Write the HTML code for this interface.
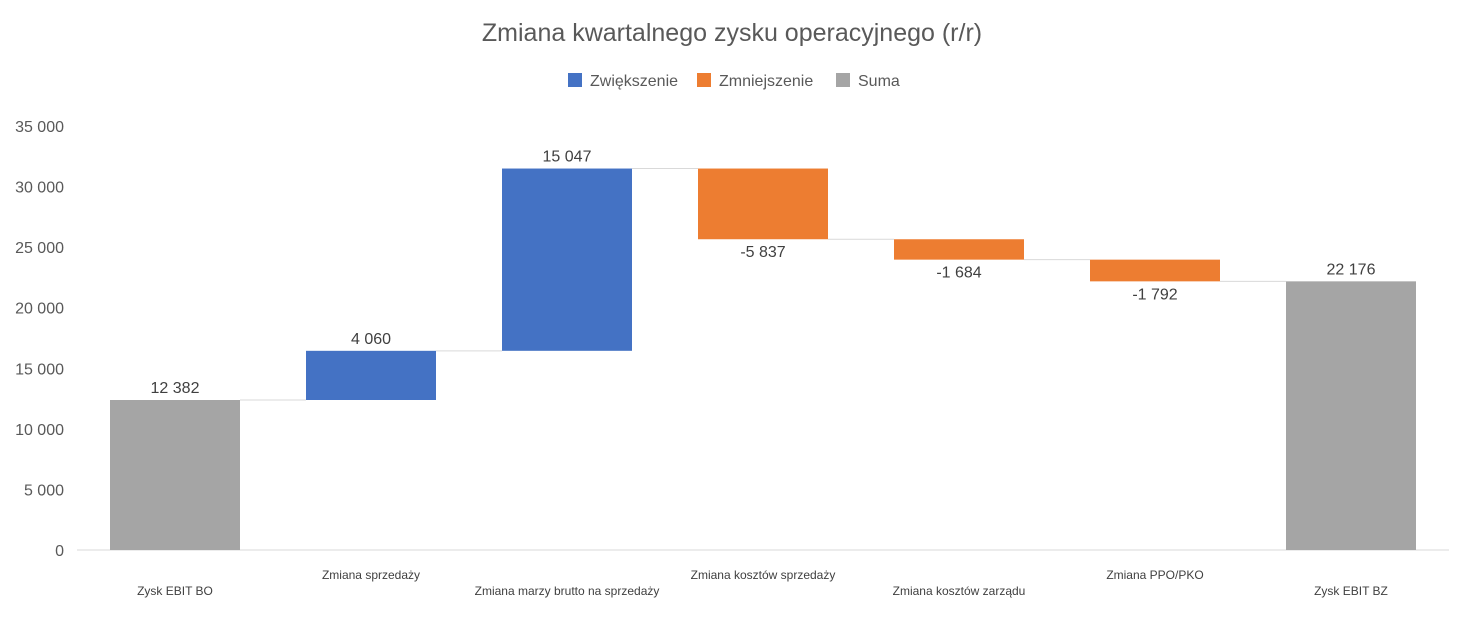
<!DOCTYPE html>
<html><head><meta charset="utf-8"><style>
body{margin:0;background:#fff;font-family:"Liberation Sans",sans-serif}
svg text{font-family:"Liberation Sans",sans-serif}
</style></head><body>
<svg id="c" width="1464" height="613">
<text x="732" y="41" text-anchor="middle" font-size="25" fill="#595959">Zmiana kwartalnego zysku operacyjnego (r/r)</text>
<g>
<rect x="568" y="73" width="14" height="14" fill="#4472c4"/>
<text x="590" y="86" font-size="16" fill="#595959">Zwiększenie</text>
<rect x="697" y="73" width="14" height="14" fill="#ed7d31"/>
<text x="719" y="86" font-size="16" fill="#595959">Zmniejszenie</text>
<rect x="836" y="73" width="14" height="14" fill="#a5a5a5"/>
<text x="858" y="86" font-size="16" fill="#595959">Suma</text>
</g>
<g id="plot"></g>
</svg>
<script>
const categories=["Zysk EBIT BO","Zmiana sprzedaży","Zmiana marzy brutto na sprzedaży","Zmiana kosztów sprzedaży","Zmiana kosztów zarządu","Zmiana PPO/PKO","Zysk EBIT BZ"];
const values=[12382,4060,15047,-5837,-1684,-1792,22176];
const kinds=["total","inc","inc","dec","dec","dec","total"];
const valueLabels=["12 382","4 060","15 047","-5 837","-1 684","-1 792","22 176"];
const yTicks=[0,5000,10000,15000,20000,25000,30000,35000];
const yTickLabels=["0","5 000","10 000","15 000","20 000","25 000","30 000","35 000"];
const NS="http://www.w3.org/2000/svg";
const g=document.getElementById("plot");
const x0=77,x1=1449,y0=550,y1=126,ymax=35000;
const y=v=>y0-(v/ymax)*(y0-y1);
const band=(x1-x0)/categories.length;
const cx=i=>x0+band*(i+0.5);
const bw=130;
const col={inc:"#4472c4",dec:"#ed7d31",total:"#a5a5a5"};
function el(t,a,p){const e=document.createElementNS(NS,t);for(const k in a)e.setAttribute(k,a[k]);(p||g).appendChild(e);return e;}
yTicks.forEach((t,i)=>{const tx=el("text",{x:64,y:y(t)+6,"text-anchor":"end","font-size":16,fill:"#595959"});


tx.textContent=yTickLabels[i];});
const ax=el("line",{x1:x0,x2:x1,y1:y0,y2:y0,stroke:"#d9d9d9"});


let run=0;const tops=[];
values.forEach((v,i)=>{let a,b;
if(kinds[i]==="total"){a=0;b=v;run=v;}else{a=run;b=run+v;run=b;}
const lo=Math.min(a,b),hi=Math.max(a,b);
const r=el("rect",{x:cx(i)-bw/2,y:y(hi),width:bw,height:y(lo)-y(hi),fill:col[kinds[i]]});


const ly=v>=0?y(hi)-7:y(lo)+18;
const t=el("text",{x:cx(i),y:ly,"text-anchor":"middle","font-size":16,fill:"#404040"});


t.textContent=valueLabels[i];
if(i<values.length-1){const c=el("line",{x1:cx(i)+bw/2,x2:cx(i+1)-bw/2,y1:y(run),y2:y(run),stroke:"#d9d9d9"});

}
const ct=el("text",{x:cx(i),y:i%2===0?595:579,"text-anchor":"middle","font-size":12,fill:"#404040"});


ct.textContent=categories[i];
});
</script>
</body></html>
